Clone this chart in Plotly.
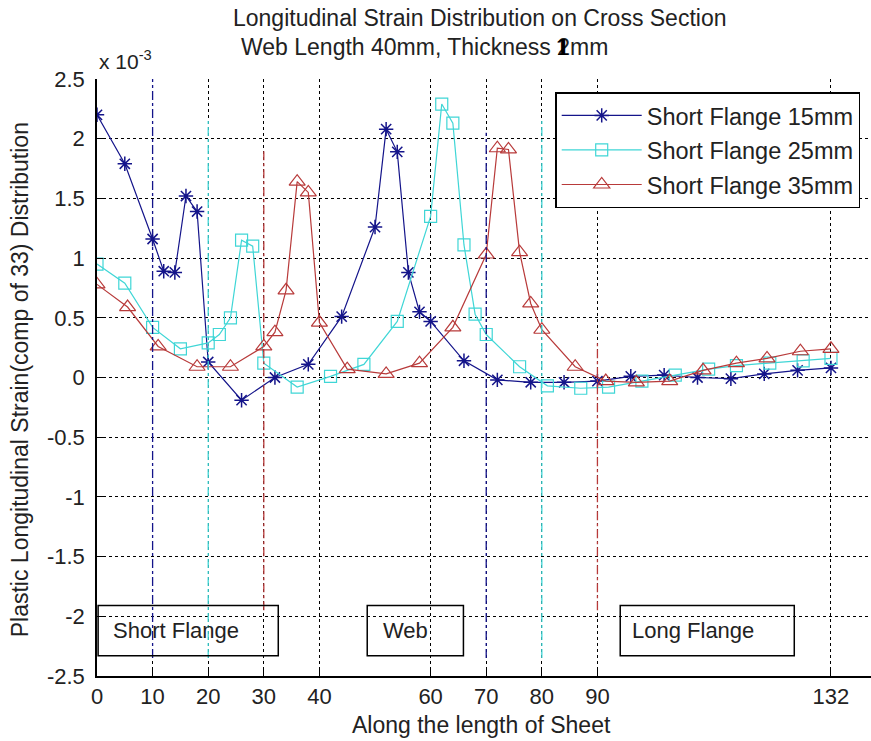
import plotly.graph_objects as go

# Longitudinal plastic strain along the sheet (values in units of 1e-3)
x_15 = [0, 5, 10, 12, 14, 16, 18, 20, 26, 32, 38, 44, 50, 52, 54, 56, 58, 60,
        66, 72, 78, 84, 90, 96, 102, 108, 114, 120, 126, 132]
y_15 = [2.20, 1.79, 1.16, 0.89, 0.88, 1.52, 1.39, 0.13, -0.19, 0.00, 0.11, 0.51,
        1.26, 2.08, 1.89, 0.88, 0.55, 0.47, 0.14, -0.02, -0.04, -0.04, -0.03,
        0.01, 0.02, 0.00, -0.01, 0.03, 0.06, 0.08]

x_25 = [0, 5, 10, 15, 20, 22, 24, 26, 28, 30, 36, 42, 48, 54, 60, 62, 64, 66,
        68, 70, 76, 81, 87, 92, 98, 104, 110, 115, 121, 127, 132]
y_25 = [0.95, 0.79, 0.42, 0.24, 0.29, 0.36, 0.50, 1.15, 1.10, 0.12, -0.08, 0.01,
        0.11, 0.47, 1.35, 2.29, 2.13, 1.11, 0.53, 0.36, 0.09, -0.07, -0.09,
        -0.08, -0.03, 0.02, 0.07, 0.10, 0.12, 0.14, 0.16]

x_35 = [0, 5.5, 11, 18, 24, 30, 32, 34, 36, 38, 40, 45, 52, 58, 64, 70, 72, 74,
        76, 78, 80, 86, 91.5, 97, 103, 109, 115, 120.5, 126.5, 132]
y_35 = [0.78, 0.59, 0.26, 0.09, 0.09, 0.26, 0.38, 0.73, 1.64, 1.55, 0.46, 0.07,
        0.03, 0.12, 0.42, 1.03, 1.92, 1.91, 1.05, 0.62, 0.40, 0.09, -0.03,
        -0.04, -0.03, 0.06, 0.12, 0.16, 0.22, 0.24]

series_names = ["Short Flange 15mm", "Short Flange 25mm", "Short Flange 35mm"]
series_colors = ["#14148a", "#3fd6d6", "#b83a3a"]

x_ticks = [0, 10, 20, 30, 40, 60, 70, 80, 90, 132]
y_ticks = [-2.5, -2, -1.5, -1, -0.5, 0, 0.5, 1, 1.5, 2, 2.5]
y_tick_text = ["-2.5", "-2", "-1.5", "-1", "-0.5", "0", "0.5", "1", "1.5", "2", "2.5"]

# Section boundaries (x position, y-extent) for each flange size
boundaries = [
    (10, -2.35, 2.5, 0), (70, -2.35, 2.05, 0),
    (20, -2.35, 2.15, 1), (80, -2.35, 2.15, 1),
    (30, -1.95, 1.9, 2), (90, -1.95, 0.3, 2),
]

# Region label boxes: (text, x0, x1, text x)
regions = [("Short Flange", 0.2, 32.6, 2.5),
           ("Web", 48.6, 65.9, 51.0),
           ("Long Flange", 94.1, 125.4, 95.9)]
box_y0, box_y1 = -2.33, -1.91

FONT = "Liberation Sans, Arial, sans-serif"

fig = go.Figure()

markers = [
    dict(symbol="asterisk-open", size=12, line=dict(width=1.5, color=series_colors[0])),
    dict(symbol="square-open", size=12, line=dict(width=1.2, color=series_colors[1])),
    dict(symbol="triangle-up-open", size=14, line=dict(width=1.2, color=series_colors[2])),
]

for xs, ys, name, col, mk, grp in zip(
        [x_15, x_25, x_35], [y_15, y_25, y_35], series_names, series_colors,
        markers, ["a", "b", "c"]):
    fig.add_trace(go.Scatter(
        x=xs, y=ys, mode="lines+markers", name=name, legendgroup=grp,
        line=dict(color=col, width=1.2), marker=dict(color=col, **mk),
    ))

for xv, y0, y1, ci in boundaries:
    fig.add_shape(type="line", xref="x", yref="y", x0=xv, x1=xv, y0=y0, y1=y1,
                  line=dict(color=series_colors[ci], width=1.3, dash="dashdot"),
                  layer="above")

for txt, x0, x1, tx in regions:
    fig.add_shape(type="rect", xref="x", yref="y", x0=x0, x1=x1,
                  y0=box_y0, y1=box_y1, line=dict(color="black", width=1.5),
                  fillcolor="rgba(0,0,0,0)")
    fig.add_annotation(x=tx, y=(box_y0 + box_y1) / 2, xref="x", yref="y",
                       text=txt, showarrow=False, xanchor="left", yanchor="middle",
                       font=dict(family=FONT, size=22, color="#222"))

# Title lines, exponent label and axis titles
fig.add_annotation(x=0.495, y=1.102, xref="paper", yref="paper",
                   text="Longitudinal Strain Distribution on Cross Section",
                   showarrow=False, xanchor="center", yanchor="middle",
                   font=dict(family=FONT, size=23, color="#222"))
fig.add_annotation(x=0.183, y=1.054, xref="paper", yref="paper",
                   text="Web Length 40mm, Thickness 2mm",
                   showarrow=False, xanchor="left", yanchor="middle",
                   font=dict(family=FONT, size=23, color="#222"))
fig.add_annotation(x=0.602, y=1.054, xref="paper", yref="paper",
                   text="<b>1</b>", showarrow=False, xanchor="center", yanchor="middle",
                   font=dict(family="DejaVu Serif", size=22, color="black"))
fig.add_annotation(x=0.0, y=1.0, xref="paper", yref="paper",
                   text="x 10<sup>-3</sup>", showarrow=False, xanchor="left",
                   yanchor="bottom", yshift=4,
                   font=dict(family=FONT, size=21, color="#222"))
fig.add_annotation(x=-0.0995, y=0.497, xref="paper", yref="paper",
                   text="Plastic Longitudinal Strain(comp of 33) Distribution",
                   textangle=-90, showarrow=False, xanchor="center", yanchor="middle",
                   font=dict(family=FONT, size=23, color="#222"))
fig.add_annotation(x=0.497, y=-0.082, xref="paper", yref="paper",
                   text="Along the length of Sheet", showarrow=False,
                   xanchor="center", yanchor="middle",
                   font=dict(family=FONT, size=23, color="#222"))

grid = dict(showgrid=True, gridcolor="black", gridwidth=1, griddash="dot",
            zeroline=False, showline=True, linecolor="black", linewidth=1.5,
            ticks="inside", ticklen=6, tickcolor="black", mirror=False,
            tickfont=dict(family=FONT, size=22, color="#222"))

fig.update_xaxes(range=[0, 139.2], tickvals=x_ticks, **grid)
fig.update_yaxes(range=[-2.5, 2.5], tickvals=y_ticks, ticktext=y_tick_text,
                 ticklabelstandoff=6, **grid)

fig.update_layout(
    width=871, height=741,
    margin=dict(l=97, r=0, t=79, b=65),
    paper_bgcolor="white", plot_bgcolor="white",
    font=dict(family=FONT, color="#222"),
    legend=dict(x=0.592, y=0.978, xanchor="left", yanchor="top",
                bordercolor="black", borderwidth=1.5, bgcolor="white",
                font=dict(family=FONT, size=23.5, color="#222"),
                tracegroupgap=1, itemwidth=80),
)

fig.write_html("out.html")
